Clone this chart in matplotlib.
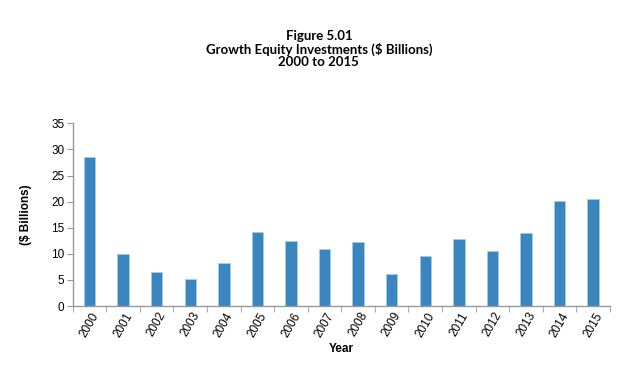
import matplotlib
matplotlib.use("Agg")
import matplotlib.pyplot as plt
import numpy as np

years = [str(y) for y in range(2000, 2016)]
values = [28.6, 10.0, 6.6, 5.2, 8.3, 14.1, 12.4, 11.0, 12.2, 6.2, 9.5, 12.9, 10.5, 13.9, 20.2, 20.6]
yticks = [0, 5, 10, 15, 20, 25, 30, 35]

fig = plt.figure(figsize=(6.24, 3.65), dpi=100)
ax = fig.add_axes([0.1165, 0.1616, 0.861, 0.5004])

x = np.arange(len(years))
ax.bar(x, values, width=0.34, color='#3a86c1', edgecolor='#a9cbe6', linewidth=0.6)

ax.set_xlim(-0.5, len(years) - 0.5)
ax.set_ylim(0, 35)
ax.set_yticks(yticks)
ax.set_yticklabels([str(t) for t in yticks], fontfamily='Liberation Sans', fontsize=8.5)
ax.set_xticks(x)
ax.set_xticklabels(years, rotation=60, fontfamily='Liberation Sans', fontsize=8.5,
                   ha='center', va='top')
ax.tick_params(axis='x', length=0, pad=3)
ax.set_xticks(np.arange(-0.5, len(years), 1.0), minor=True)
ax.tick_params(axis='x', which='minor', length=4, color='#999999', direction='out')
ax.tick_params(axis='y', length=4, color='#999999', direction='out', pad=2)

for s in ['top', 'right']:
    ax.spines[s].set_visible(False)
for s in ['left', 'bottom']:
    ax.spines[s].set_color('#999999')
    ax.spines[s].set_linewidth(1.0)

ax.set_ylabel('($ Billions)', fontfamily='Liberation Sans', fontweight='bold', fontsize=8.5, labelpad=14)
ax.set_xlabel('Year', fontfamily='Liberation Sans', fontweight='bold', fontsize=8.5, labelpad=3)

title_lines = ['Figure 5.01', 'Growth Equity Investments ($ Billions)', '2000 to 2015']
for i, t in enumerate(title_lines):
    fig.text(0.511, 1 - (36 + 13.2 * i) / 365, t, ha='center', va='center',
             fontfamily='Lato', fontweight='bold', fontsize=9.5)

fig.savefig('out.png', dpi=100)
